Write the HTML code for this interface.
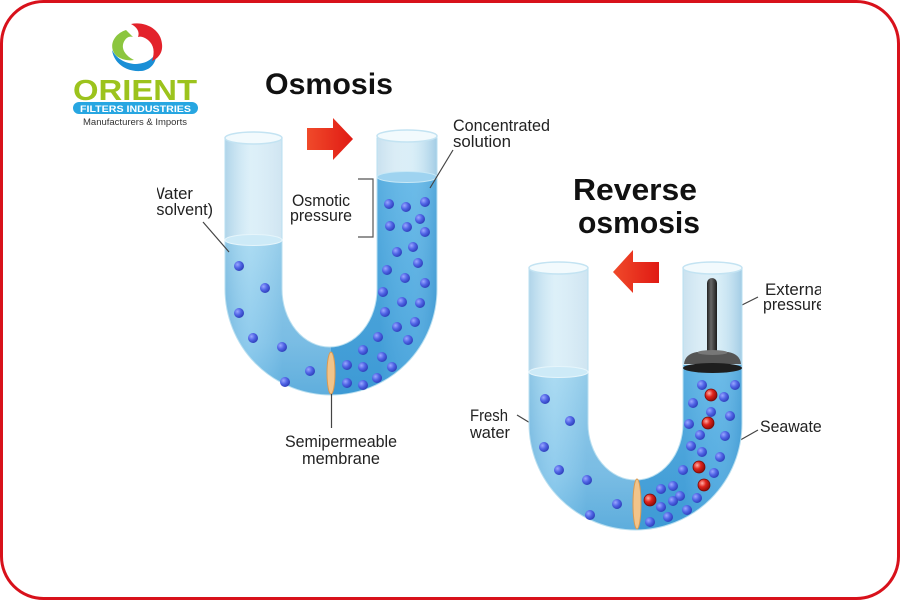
<!DOCTYPE html>
<html><head><meta charset="utf-8"><style>
html,body{margin:0;padding:0;background:#fff;}
svg{display:block;}
text{font-family:"Liberation Sans",sans-serif;}
</style></head><body>
<svg width="900" height="600" viewBox="0 0 900 600" xmlns="http://www.w3.org/2000/svg">
<defs>
  <radialGradient id="bd" cx="0.35" cy="0.35" r="0.7">
    <stop offset="0" stop-color="#9aa8ff"/><stop offset="0.5" stop-color="#5165e6"/><stop offset="1" stop-color="#2c3cb8"/>
  </radialGradient>
  <radialGradient id="rd" cx="0.35" cy="0.35" r="0.7">
    <stop offset="0" stop-color="#ffb0a8"/><stop offset="0.45" stop-color="#e0241c"/><stop offset="1" stop-color="#8a0c08"/>
  </radialGradient>
  <linearGradient id="glass" x1="0" x2="1" y1="0" y2="0">
    <stop offset="0" stop-color="#cfeaf6"/><stop offset="0.3" stop-color="#eaf6fb"/><stop offset="0.8" stop-color="#e2f2f9"/><stop offset="1" stop-color="#c7e6f4"/>
  </linearGradient>
  <linearGradient id="lw" x1="0" x2="0" y1="0" y2="1">
    <stop offset="0" stop-color="#a4d8f1"/><stop offset="0.6" stop-color="#86c7eb"/><stop offset="1" stop-color="#5fb2e1"/>
  </linearGradient>
  <linearGradient id="rw" x1="0" x2="0" y1="0" y2="1">
    <stop offset="0" stop-color="#62b7e7"/><stop offset="1" stop-color="#3f9ed9"/>
  </linearGradient>
  <linearGradient id="arrR" x1="0" x2="1" y1="0" y2="0">
    <stop offset="0" stop-color="#f04a2a"/><stop offset="1" stop-color="#e01a14"/>
  </linearGradient>
  <linearGradient id="rod" x1="0" x2="1" y1="0" y2="0">
    <stop offset="0" stop-color="#222"/><stop offset="0.4" stop-color="#666"/><stop offset="1" stop-color="#1c1c1c"/>
  </linearGradient>
  <linearGradient id="shade" x1="0" x2="1" y1="0" y2="0">
    <stop offset="0" stop-color="#1f6fae" stop-opacity="0.18"/><stop offset="0.12" stop-color="#fff" stop-opacity="0.08"/><stop offset="0.27" stop-color="#1f6fae" stop-opacity="0.12"/><stop offset="0.73" stop-color="#1f6fae" stop-opacity="0.12"/><stop offset="0.88" stop-color="#fff" stop-opacity="0.06"/><stop offset="1" stop-color="#1f6fae" stop-opacity="0.22"/>
  </linearGradient>
  <path id="u1" d="M225,138 L225,289 A106,106 0 0 0 437,289 L437,138 L377,138 L377,289 A47.5,58 0 0 1 282,289 L282,138 Z"/>
  <clipPath id="c1"><use href="#u1"/></clipPath>
  <path id="u2" d="M529,268 L529,423.5 A106.5,106.5 0 0 0 742,423.5 L742,268 L683,268 L683,423.5 A47.5,56.5 0 0 1 588,423.5 L588,268 Z"/>
  <clipPath id="c2"><use href="#u2"/></clipPath>
  <clipPath id="tc"><rect x="157" y="0" width="664" height="600"/></clipPath>
</defs>

<rect x="0" y="0" width="900" height="600" fill="#fff"/>
<rect x="1.5" y="1.5" width="897" height="597" rx="42" ry="42" fill="none" stroke="#d8111b" stroke-width="3"/>

<!-- LOGO -->
<g>
  <path d="M126,30 C111,35 108,50 118,57 C123,60 129,61 134,60 C124,55 120,47 125,40 C127,37 130,36 133,37 Z" fill="#8cc63f"/>
  <path d="M112,50 C114,64 127,72 141,71 C151,70 157,62 156,53 C151,61 144,64 134,64 C124,63 116,58 112,50 Z" fill="#1a8fd6"/>
  <path d="M131,24 C146,21 161,30 162,44 C163,52 159,58 152,61 C155,52 154,45 148,40 C144,37 141,36 138,37 C140,32 137,27 131,24 Z" fill="#e3222b"/>
  <text x="73" y="100" font-size="29" font-weight="bold" fill="#9cc31d" textLength="124" lengthAdjust="spacingAndGlyphs">ORIENT</text>
  <rect x="73" y="102" width="125" height="12" rx="6" fill="#27a6e1"/>
  <text x="80" y="112" font-size="9.5" font-weight="bold" fill="#fff" textLength="111" lengthAdjust="spacingAndGlyphs">FILTERS INDUSTRIES</text>
  <text x="83" y="125" font-size="9" fill="#333" textLength="104" lengthAdjust="spacingAndGlyphs">Manufacturers &amp; Imports</text>
</g>

<!-- TITLES -->
<text x="265" y="94" font-size="30" font-weight="bold" fill="#111" textLength="128" lengthAdjust="spacingAndGlyphs">Osmosis</text>
<text x="573" y="200" font-size="31" font-weight="bold" fill="#111" textLength="124" lengthAdjust="spacingAndGlyphs">Reverse</text>
<text x="578" y="233" font-size="31" font-weight="bold" fill="#111" textLength="122" lengthAdjust="spacingAndGlyphs">osmosis</text>

<!-- OSMOSIS TUBE -->
<use href="#u1" fill="url(#glass)"/>
<g clip-path="url(#c1)">
  <rect x="200" y="240" width="131" height="170" fill="url(#lw)"/>
  <rect x="331" y="177" width="120" height="230" fill="url(#rw)"/>
  <rect x="225" y="130" width="212" height="280" fill="url(#shade)"/>
</g>
<use href="#u1" fill="none" stroke="#b9dff0" stroke-width="1"/>
<ellipse cx="253.5" cy="138" rx="28.5" ry="6" fill="#f2fafd" stroke="#c3e3f2" stroke-width="1.5"/>
<ellipse cx="407" cy="136" rx="30" ry="6" fill="#f2fafd" stroke="#c3e3f2" stroke-width="1.5"/>
<ellipse cx="253.5" cy="240" rx="28.5" ry="5.5" fill="#cdeaf7" stroke="#e6f5fb" stroke-width="1"/>
<ellipse cx="407" cy="177" rx="30" ry="5.5" fill="#9ed3f0" stroke="#c8e8f6" stroke-width="1"/>
<ellipse cx="331" cy="373" rx="4" ry="21" fill="#f2c48a" stroke="#d99a52" stroke-width="1"/>
<g fill="url(#bd)">
  <circle cx="239" cy="266" r="5"/><circle cx="265" cy="288" r="5"/><circle cx="239" cy="313" r="5"/>
  <circle cx="253" cy="338" r="5"/><circle cx="282" cy="347" r="5"/><circle cx="310" cy="371" r="5"/><circle cx="285" cy="382" r="5"/>
  <circle cx="389" cy="204" r="5"/><circle cx="406" cy="207" r="5"/><circle cx="425" cy="202" r="5"/>
  <circle cx="390" cy="226" r="5"/><circle cx="407" cy="227" r="5"/><circle cx="420" cy="219" r="5"/><circle cx="425" cy="232" r="5"/>
  <circle cx="413" cy="247" r="5"/><circle cx="397" cy="252" r="5"/><circle cx="418" cy="263" r="5"/><circle cx="387" cy="270" r="5"/>
  <circle cx="405" cy="278" r="5"/><circle cx="425" cy="283" r="5"/><circle cx="383" cy="292" r="5"/><circle cx="402" cy="302" r="5"/>
  <circle cx="420" cy="303" r="5"/><circle cx="385" cy="312" r="5"/><circle cx="397" cy="327" r="5"/><circle cx="415" cy="322" r="5"/>
  <circle cx="408" cy="340" r="5"/><circle cx="378" cy="337" r="5"/><circle cx="363" cy="350" r="5"/><circle cx="382" cy="357" r="5"/>
  <circle cx="392" cy="367" r="5"/><circle cx="347" cy="365" r="5"/><circle cx="363" cy="367" r="5"/><circle cx="377" cy="378" r="5"/>
  <circle cx="363" cy="385" r="5"/><circle cx="347" cy="383" r="5"/>
</g>
<path d="M307,128 L333,128 L333,118 L353,139 L333,160 L333,150 L307,150 Z" fill="url(#arrR)"/>
<path d="M358,179 L373,179 L373,237 L358,237" fill="none" stroke="#555" stroke-width="1.2"/>
<g stroke="#444" stroke-width="1.2">
  <line x1="203" y1="222" x2="229" y2="252"/>
  <line x1="453" y1="150" x2="430" y2="188"/>
  <line x1="331.5" y1="394" x2="331.5" y2="428"/>
  <line x1="517" y1="415" x2="550" y2="435"/>
  <line x1="758" y1="297" x2="718" y2="317"/>
  <line x1="758" y1="430" x2="728" y2="447"/>
</g>

<!-- REVERSE TUBE -->
<use href="#u2" fill="url(#glass)"/>
<g clip-path="url(#c2)">
  <rect x="500" y="372" width="137" height="170" fill="url(#lw)"/>
  <rect x="637" y="365" width="120" height="180" fill="url(#rw)"/>
  <rect x="529" y="260" width="213" height="280" fill="url(#shade)"/>
</g>
<use href="#u2" fill="none" stroke="#b9dff0" stroke-width="1"/>
<ellipse cx="558.5" cy="268" rx="29.5" ry="6" fill="#f2fafd" stroke="#c3e3f2" stroke-width="1.5"/>
<ellipse cx="712.5" cy="268" rx="29.5" ry="6" fill="#f2fafd" stroke="#c3e3f2" stroke-width="1.5"/>
<ellipse cx="558.5" cy="372" rx="29.5" ry="5.5" fill="#cdeaf7" stroke="#e6f5fb" stroke-width="1"/>
<ellipse cx="637" cy="504" rx="4" ry="25" fill="#f2c48a" stroke="#d99a52" stroke-width="1"/>
<rect x="707" y="278" width="10" height="82" rx="5" fill="url(#rod)"/>
<path d="M697,352 L728,352 Q740,354 741,364 L684,364 Q685,354 697,352 Z" fill="#555"/>
<ellipse cx="712.5" cy="352.5" rx="15" ry="2.5" fill="#777"/>
<ellipse cx="712.5" cy="368" rx="29.5" ry="5" fill="#1e1e1e"/>
<g fill="url(#bd)">
  <circle cx="545" cy="399" r="5"/><circle cx="570" cy="421" r="5"/><circle cx="544" cy="447" r="5"/>
  <circle cx="559" cy="470" r="5"/><circle cx="587" cy="480" r="5"/><circle cx="617" cy="504" r="5"/><circle cx="590" cy="515" r="5"/>
  <circle cx="702" cy="385" r="5"/><circle cx="735" cy="385" r="5"/><circle cx="724" cy="397" r="5"/><circle cx="693" cy="403" r="5"/>
  <circle cx="711" cy="412" r="5"/><circle cx="730" cy="416" r="5"/><circle cx="689" cy="424" r="5"/><circle cx="700" cy="435" r="5"/>
  <circle cx="725" cy="436" r="5"/><circle cx="691" cy="446" r="5"/><circle cx="702" cy="452" r="5"/><circle cx="720" cy="457" r="5"/>
  <circle cx="683" cy="470" r="5"/><circle cx="714" cy="473" r="5"/><circle cx="673" cy="486" r="5"/><circle cx="661" cy="489" r="5"/>
  <circle cx="680" cy="496" r="5"/><circle cx="697" cy="498" r="5"/><circle cx="673" cy="501" r="5"/><circle cx="661" cy="507" r="5"/>
  <circle cx="687" cy="510" r="5"/><circle cx="668" cy="517" r="5"/><circle cx="650" cy="522" r="5"/>
</g>
<g fill="url(#rd)" stroke="#7a0a06" stroke-width="0.8">
  <circle cx="711" cy="395" r="6"/><circle cx="708" cy="423" r="6"/><circle cx="699" cy="467" r="6"/>
  <circle cx="704" cy="485" r="6"/><circle cx="650" cy="500" r="6"/>
</g>
<path d="M659,262 L633,262 L633,250 L613,272 L633,293 L633,283 L659,283 Z" fill="url(#arrR)"/>

<!-- LABELS -->
<g clip-path="url(#tc)" fill="#222" font-size="17">
  <text x="149" y="199" textLength="44" lengthAdjust="spacingAndGlyphs">Water</text>
  <text x="151" y="215" textLength="62" lengthAdjust="spacingAndGlyphs">(solvent)</text>
  <text x="292" y="206" textLength="58" lengthAdjust="spacingAndGlyphs">Osmotic</text>
  <text x="290" y="221" textLength="62" lengthAdjust="spacingAndGlyphs">pressure</text>
  <text x="453" y="131" textLength="97" lengthAdjust="spacingAndGlyphs">Concentrated</text>
  <text x="453" y="147" textLength="58" lengthAdjust="spacingAndGlyphs">solution</text>
  <text x="285" y="447" textLength="112" lengthAdjust="spacingAndGlyphs">Semipermeable</text>
  <text x="302" y="464" textLength="78" lengthAdjust="spacingAndGlyphs">membrane</text>
  <text x="470" y="421" textLength="38" lengthAdjust="spacingAndGlyphs">Fresh</text>
  <text x="470" y="438" textLength="40" lengthAdjust="spacingAndGlyphs">water</text>
  <text x="765" y="295" textLength="62" lengthAdjust="spacingAndGlyphs">External</text>
  <text x="763" y="310" textLength="62" lengthAdjust="spacingAndGlyphs">pressure</text>
  <text x="760" y="432" textLength="67" lengthAdjust="spacingAndGlyphs">Seawater</text>
</g>
</svg>
</body></html>
